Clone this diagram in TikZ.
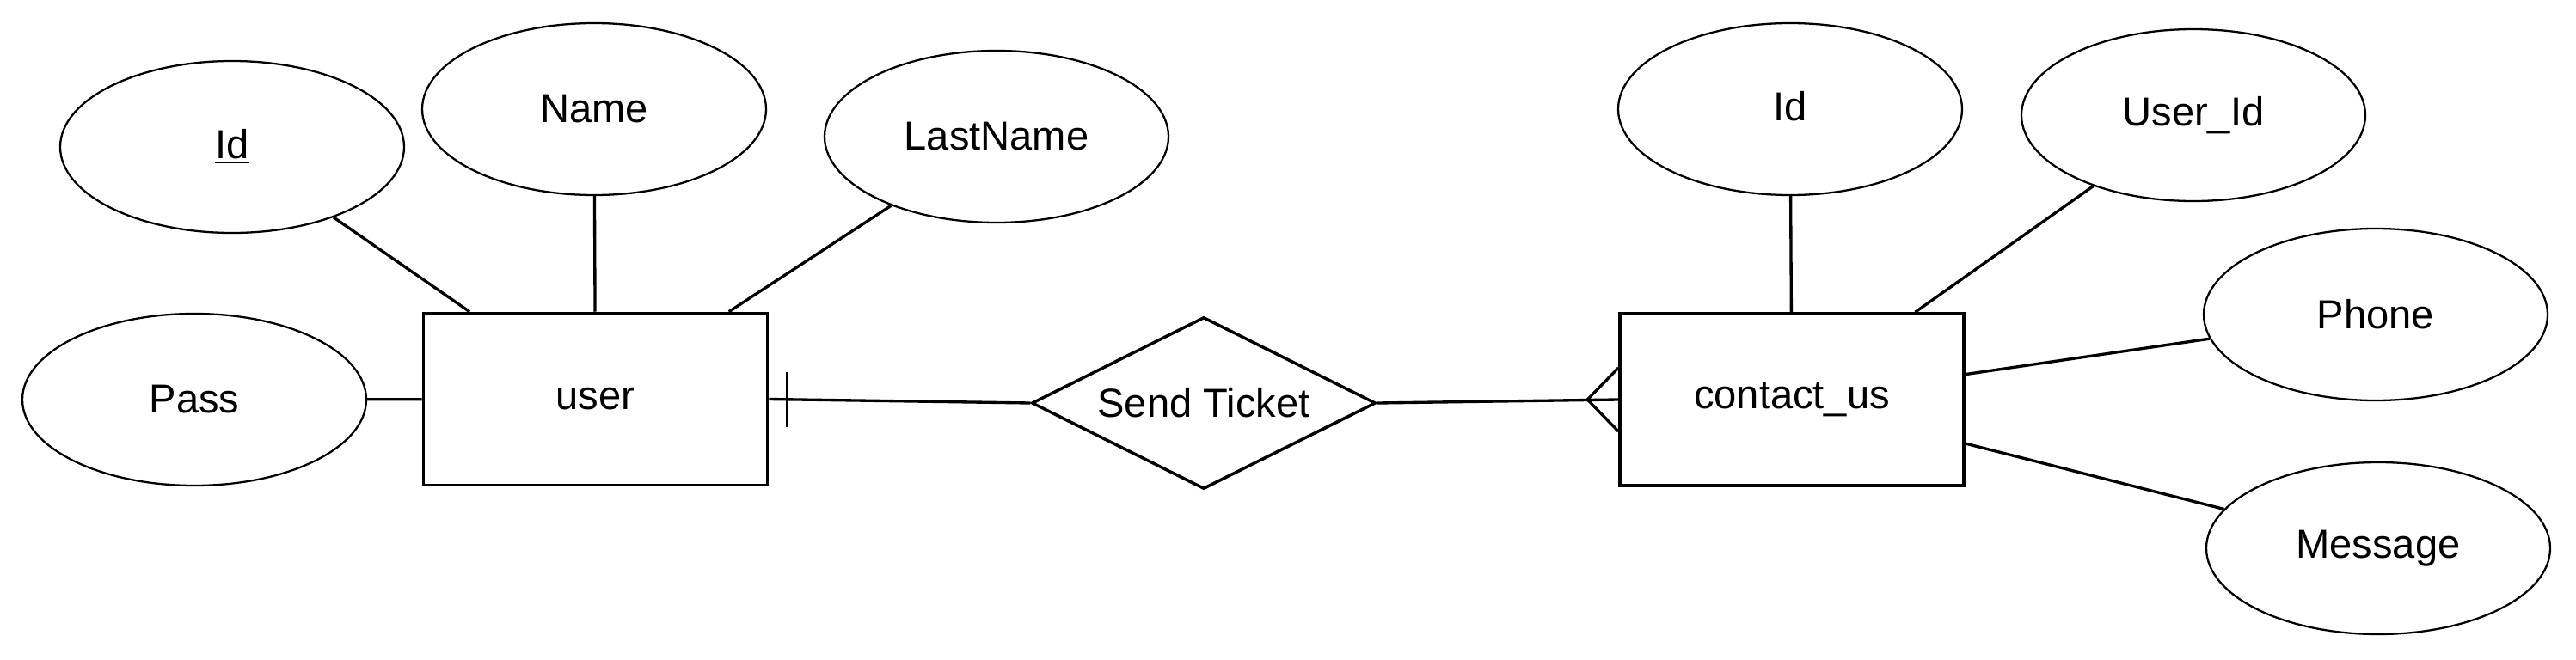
\documentclass[tikz,border=0pt]{standalone}
\usepackage{fontspec}
\setmainfont{Liberation Sans}
\usepackage{tikz}
\usetikzlibrary{shapes.geometric,calc}

\tikzset{
  attr/.style={draw, ellipse, line width=0.65pt, minimum width=4cm, minimum height=2cm, inner sep=0pt},
  entity/.style={draw, rectangle, line width=1pt, minimum width=4cm, minimum height=2cm, inner sep=0pt},
  relation/.style={draw, diamond, line width=1pt, minimum width=4cm, minimum height=2cm, inner sep=0pt},
  link/.style={line width=0.95pt}
}

\begin{document}
\begin{tikzpicture}[every node/.style={font=\fontsize{13.4}{16}\selectfont}]
  \useasboundingbox (0,0) rectangle (29.96,-7.68);

  % Entity: user
  \node[entity] (user) at (6.925, -4.645) {user};
  \node[attr] (userId) at (2.70, -1.71) {\underline{Id}};
  \node[attr] (userName) at (6.91, -1.27) {Name};
  \node[attr] (userLast) at (11.59, -1.59) {LastName};
  \node[attr] (userPass) at (2.26, -4.65) {Pass};

  \draw[link] (userId) -- (user);
  \draw[link] (userName) -- (user);
  \draw[link] (userLast) -- (user);
  \draw[link] (userPass) -- (user);

  % Relation
  \node[relation, label=center:Send Ticket] (send) at (14.00, -4.69) {};

  % Entity: contact_us
  \node[entity] (contact) at (20.84, -4.65) {contact\_us};
  \node[attr] (contactId) at (20.82, -1.27) {\underline{Id}};
  \node[attr] (contactUser) at (25.51, -1.34) {User\_Id};
  \node[attr] (contactPhone) at (27.63, -3.66) {Phone};
  \node[attr] (contactMsg) at (27.66, -6.38) {Message};

  \draw[link] (contactId) -- (contact);
  \draw[link] (contactUser) -- (contact);
  \draw[link] (contactPhone) -- (contact);
  \draw[link] (contactMsg) -- (contact);

  % One side (bar) at user
  \draw[link] (user.east) -- (send.west);
  \draw[link] ([xshift=0.21cm, yshift=0.32cm]user.east) -- ([xshift=0.21cm, yshift=-0.32cm]user.east);

  % Many side (crow's foot) at contact_us
  \coordinate (crow) at ([xshift=-0.36cm]contact.west);
  \draw[link] (send.east) -- (contact.west);
  \draw[link] ([yshift=0.37cm]contact.west) -- (crow) -- ([yshift=-0.37cm]contact.west);
\end{tikzpicture}
\end{document}
